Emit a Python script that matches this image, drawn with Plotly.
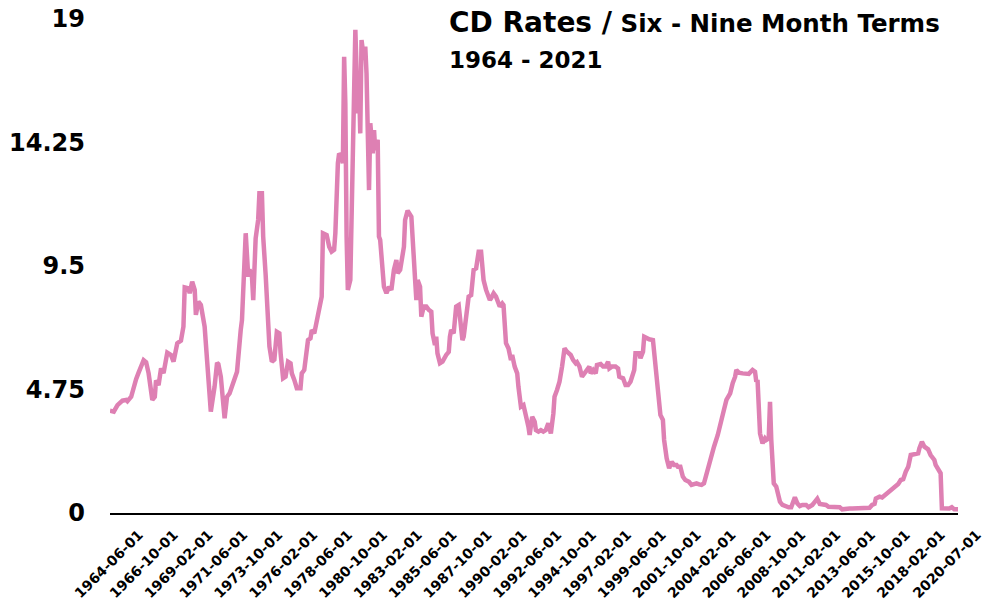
import plotly.graph_objects as go

# Monthly readings of six- to nine-month CD rates (percent)
DATES = [
    "1964-06", "1964-09", "1964-12", "1965-04", "1965-07", "1965-08", "1965-11",
    "1966-01", "1966-03", "1966-05", "1966-09", "1966-11", "1967-01", "1967-04",
    "1967-06", "1967-07", "1967-09", "1967-11", "1968-01", "1968-04", "1968-07",
    "1968-09", "1968-12", "1969-03", "1969-05", "1969-06", "1969-09", "1969-10",
    "1969-12", "1970-02", "1970-03", "1970-05", "1970-07", "1970-10", "1970-12",
    "1971-03", "1971-06", "1971-08", "1971-09", "1971-11", "1972-02", "1972-04",
    "1972-06", "1972-08", "1972-10", "1972-12", "1973-03", "1973-04", "1973-07",
    "1973-09", "1973-10", "1973-12", "1974-01", "1974-03", "1974-05", "1974-06",
    "1974-08", "1974-09", "1974-11", "1975-01", "1975-02", "1975-04", "1975-06",
    "1975-08", "1975-10", "1975-11", "1976-01", "1976-03", "1976-05", "1976-07",
    "1976-08", "1976-10", "1976-12", "1977-03", "1977-04", "1977-06", "1977-09",
    "1977-11", "1977-12", "1978-02", "1978-04", "1978-06", "1978-08", "1978-09",
    "1978-12", "1979-02", "1979-04", "1979-06", "1979-07", "1979-09", "1979-10",
    "1979-12", "1980-01", "1980-02", "1980-03", "1980-04", "1980-05", "1980-07",
    "1980-09", "1980-10", "1980-11", "1981-01", "1981-02", "1981-03", "1981-04",
    "1981-06", "1981-07", "1981-08", "1981-10", "1981-11", "1982-01", "1982-02",
    "1982-03", "1982-05", "1982-06", "1982-07", "1982-09", "1982-10", "1982-12",
    "1983-02", "1983-04", "1983-06", "1983-08", "1983-09", "1983-11", "1983-12",
    "1984-02", "1984-03", "1984-05", "1984-08", "1984-09", "1984-11", "1984-12",
    "1985-01", "1985-03", "1985-04", "1985-06", "1985-08", "1985-10", "1985-12",
    "1986-01", "1986-03", "1986-04", "1986-05", "1986-07", "1986-09", "1986-12",
    "1987-02", "1987-03", "1987-04", "1987-06", "1987-08", "1987-10", "1987-11",
    "1988-01", "1988-02", "1988-04", "1988-06", "1988-08", "1988-10", "1988-12",
    "1989-02", "1989-04", "1989-06", "1989-08", "1989-11", "1989-12", "1990-02",
    "1990-04", "1990-07", "1990-09", "1990-10", "1990-12", "1991-02", "1991-04",
    "1991-05", "1991-07", "1991-09", "1991-10", "1991-12", "1992-02", "1992-04",
    "1992-06", "1992-07", "1992-09", "1992-11", "1992-12", "1993-02", "1993-04",
    "1993-06", "1993-08", "1993-10", "1993-12", "1994-02", "1994-03", "1994-05",
    "1994-07", "1994-09", "1994-11", "1995-01", "1995-04", "1995-06", "1995-08",
    "1995-09", "1995-11", "1996-01", "1996-03", "1996-05", "1996-07", "1996-08",
    "1996-10", "1996-12", "1997-01", "1997-04", "1997-06", "1997-08", "1997-10",
    "1997-11", "1998-01", "1998-04", "1998-06", "1998-07", "1998-10", "1998-12",
    "1999-02", "1999-04", "1999-06", "1999-07", "1999-08", "1999-11", "1999-12",
    "2000-02", "2000-03", "2000-05", "2000-07", "2000-10", "2000-11", "2001-01",
    "2001-02", "2001-04", "2001-06", "2001-07", "2001-09", "2001-10", "2001-11",
    "2002-01", "2002-03", "2002-05", "2002-06", "2002-08", "2002-10", "2002-12",
    "2003-03", "2003-05", "2003-07", "2003-09", "2003-11", "2004-01", "2004-03",
    "2004-05", "2004-06", "2004-08", "2004-11", "2005-02", "2005-04", "2005-07",
    "2005-09", "2005-12", "2006-02", "2006-04", "2006-05", "2006-07", "2006-10",
    "2006-12", "2007-03", "2007-06", "2007-08", "2007-09", "2007-10", "2007-12",
    "2008-01", "2008-02", "2008-04", "2008-05", "2008-07", "2008-08", "2008-09",
    "2008-11", "2009-01", "2009-02", "2009-04", "2009-06", "2009-09", "2009-11",
    "2010-01", "2010-02", "2010-04", "2010-06", "2010-08", "2010-10", "2011-01",
    "2011-03", "2011-06", "2011-08", "2011-10", "2011-12", "2012-02", "2012-05",
    "2012-07", "2012-10", "2013-01", "2013-04", "2013-06", "2013-09", "2013-12",
    "2014-02", "2014-05", "2014-08", "2014-10", "2015-01", "2015-04", "2015-06",
    "2015-08", "2015-09", "2015-12", "2016-02", "2016-05", "2016-07", "2016-09",
    "2016-12", "2017-03", "2017-05", "2017-07", "2017-09", "2017-11", "2018-01",
    "2018-04", "2018-07", "2018-08", "2018-10", "2018-12", "2019-03", "2019-05",
    "2019-08", "2019-09", "2019-11", "2020-01", "2020-02", "2020-03", "2020-05",
    "2020-08", "2020-10", "2020-12", "2021-03",
]

RATES = [
    3.93, 3.90, 4.15, 4.32, 4.35, 4.30, 4.47,
    4.92, 5.15, 5.40, 5.88, 5.80, 5.37, 4.35,
    4.47, 5.10, 4.92, 5.56, 5.38, 6.17, 6.08,
    5.82, 6.53, 6.63, 7.17, 8.68, 8.64, 8.45,
    8.90, 8.58, 7.62, 8.13, 8.00, 7.17, 5.88,
    3.90, 4.86, 5.78, 5.73, 5.24, 3.64, 4.47,
    4.60, 4.86, 5.18, 5.43, 7.04, 7.42, 10.76,
    9.09, 9.37, 9.09, 8.19, 10.56, 11.27, 12.30,
    12.30, 10.63, 9.15, 7.68, 6.40, 5.82, 5.90,
    6.97, 6.91, 6.14, 5.18, 5.24, 5.82, 5.76,
    5.37, 5.12, 4.80, 4.80, 5.37, 5.50, 6.65,
    6.72, 7.04, 6.91, 7.42, 7.94, 8.32, 10.76,
    10.69, 10.24, 10.05, 10.12, 10.76, 13.45, 13.83,
    13.71, 13.45, 17.55, 15.76, 10.63, 8.58, 8.96,
    13.83, 17.04, 18.58, 15.37, 16.40, 14.60, 18.19,
    17.42, 17.94, 16.91, 12.42, 14.99, 13.83, 14.73,
    13.96, 14.35, 10.63, 10.50, 9.35, 8.70, 8.45,
    8.70, 8.58, 9.35, 9.73, 9.22, 9.35, 9.60,
    10.24, 11.27, 11.63, 11.40, 10.24, 8.96, 8.19,
    8.96, 8.70, 7.55, 7.94, 7.94, 7.81, 7.74,
    6.91, 6.46, 6.78, 6.14, 5.76, 5.82, 6.08,
    6.20, 6.78, 7.04, 6.91, 7.94, 8.00, 7.42,
    6.65, 6.78, 7.55, 8.32, 8.38, 9.35, 9.41,
    10.05, 10.05, 8.96, 8.58, 8.19, 8.26, 8.45,
    8.32, 7.94, 8.06, 8.00, 6.53, 6.33, 5.88,
    6.08, 5.63, 5.37, 4.86, 4.09, 4.15, 3.77,
    3.32, 3.00, 3.70, 3.51, 3.19, 3.13, 3.19,
    3.13, 3.19, 3.45, 3.06, 3.83, 4.47, 4.73,
    5.05, 5.63, 6.33, 6.20, 6.08, 5.88, 5.76,
    5.80, 5.63, 5.24, 5.37, 5.47, 5.63, 5.37,
    5.50, 5.37, 5.69, 5.73, 5.63, 5.63, 5.82,
    5.56, 5.63, 5.63, 5.56, 5.24, 5.18, 4.92,
    4.92, 5.05, 5.31, 5.50, 6.14, 6.14, 5.95,
    6.20, 6.78, 6.72, 6.68, 6.65, 6.14, 5.24,
    4.60, 3.77, 3.58, 2.81, 2.10, 1.91, 1.72,
    1.97, 1.85, 1.85, 1.78, 1.78, 1.40, 1.27,
    1.20, 1.08, 1.12, 1.14, 1.10, 1.08, 1.14,
    1.53, 1.72, 2.10, 2.55, 3.00, 3.45, 3.96,
    4.35, 4.60, 4.99, 5.24, 5.50, 5.40, 5.37,
    5.37, 5.35, 5.50, 5.43, 5.05, 5.12, 3.06,
    2.81, 2.68, 2.87, 2.81, 2.87, 4.28, 2.81,
    1.14, 1.01, 0.76, 0.43, 0.31, 0.24, 0.22,
    0.22, 0.37, 0.60, 0.37, 0.27, 0.31, 0.31,
    0.22, 0.31, 0.43, 0.55, 0.35, 0.33, 0.31,
    0.24, 0.24, 0.22, 0.22, 0.14, 0.17, 0.17,
    0.17, 0.17, 0.17, 0.20, 0.17, 0.20, 0.31,
    0.35, 0.56, 0.63, 0.60, 0.72, 0.82, 0.86,
    0.99, 1.12, 1.27, 1.30, 1.59, 1.78, 2.23,
    2.26, 2.29, 2.49, 2.74, 2.55, 2.45, 2.23,
    2.04, 1.85, 1.72, 1.53, 0.18, 0.18, 0.20,
    0.17, 0.22, 0.14, 0.14,
]

X_TICKS = [
    "1964-06-01", "1966-10-01", "1969-02-01", "1971-06-01", "1973-10-01",
    "1976-02-01", "1978-06-01", "1980-10-01", "1983-02-01", "1985-06-01",
    "1987-10-01", "1990-02-01", "1992-06-01", "1994-10-01", "1997-02-01",
    "1999-06-01", "2001-10-01", "2004-02-01", "2006-06-01", "2008-10-01",
    "2011-02-01", "2013-06-01", "2015-10-01", "2018-02-01", "2020-07-01",
]

Y_TICKS = [0, 4.75, 9.5, 14.25, 19]
Y_TICK_TEXT = ["0", "4.75", "9.5", "14.25", "19"]

FONT = "DejaVu Sans, Liberation Sans, Arial, sans-serif"
LINE_COLOR = "#DE80B3"

fig = go.Figure()
fig.add_trace(go.Scatter(
    x=[d + "-01" for d in DATES],
    y=RATES,
    mode="lines",
    line=dict(color=LINE_COLOR, width=4.5),
    hoverinfo="x+y",
    showlegend=False,
))

fig.update_layout(
    width=984,
    height=601,
    margin=dict(l=110, r=26, t=19, b=88),
    paper_bgcolor="white",
    plot_bgcolor="white",
    font=dict(family=FONT, color="black"),
    xaxis=dict(
        type="date",
        range=["1964-06-01", "2021-03-01"],
        automargin=False,
        tickmode="array",
        tickvals=X_TICKS,
        ticktext=X_TICKS,
        tickangle=-45,
        tickfont=dict(family=FONT, size=14, weight="bold", color="black"),
        ticklabelshift=29,
        ticklabelstandoff=6,
        ticklabeloverflow="allow",
        showgrid=False,
        zeroline=False,
        showline=True,
        linecolor="black",
        linewidth=2,
        ticks="",
    ),
    yaxis=dict(
        range=[0, 19],
        automargin=False,
        tickmode="array",
        tickvals=Y_TICKS,
        ticktext=Y_TICK_TEXT,
        tickfont=dict(family=FONT, size=24, weight="bold", color="black"),
        ticklabelstandoff=24,
        showgrid=False,
        zeroline=False,
        showline=False,
        ticks="",
    ),
)

fig.add_annotation(
    xref="paper", yref="paper", x=0.3974, y=1.03,
    xanchor="left", yanchor="top", showarrow=False, align="left",
    text="<b><span style='font-size:28px'>CD Rates /</span>"
         "<span style='font-size:24.5px'> Six - Nine Month Terms</span></b>",
    font=dict(family=FONT, size=24.5, color="black"),
)
fig.add_annotation(
    xref="paper", yref="paper", x=0.3974, y=0.948,
    xanchor="left", yanchor="top", showarrow=False, align="left",
    text="<b>1964 - 2021</b>",
    font=dict(family=FONT, size=23, color="black"),
)

fig.write_html("out.html")
